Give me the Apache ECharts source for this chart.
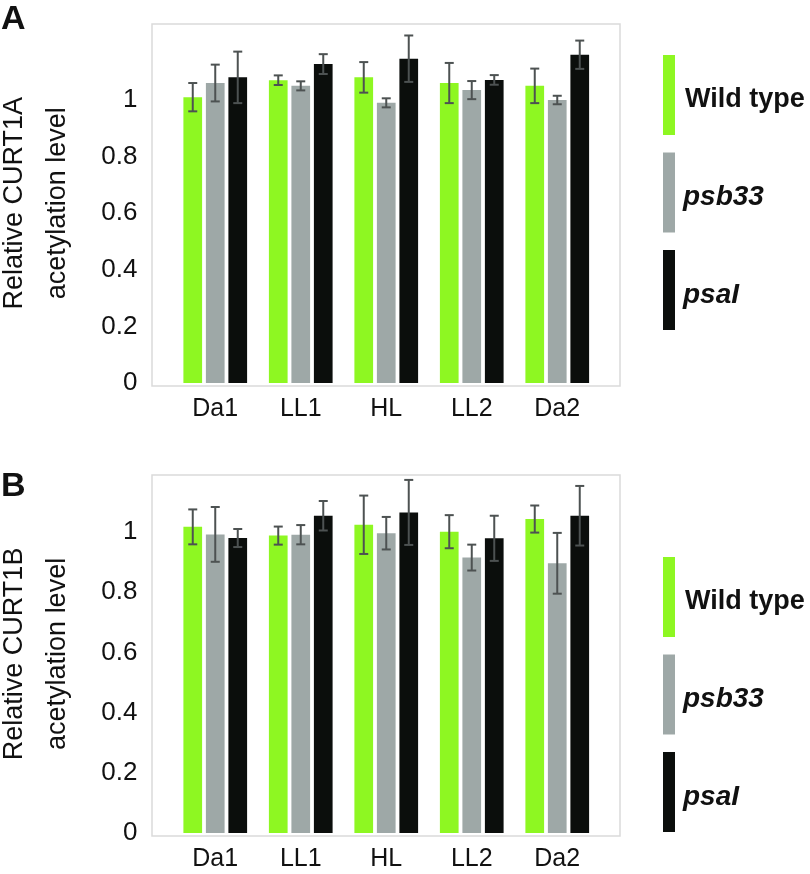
<!DOCTYPE html>
<html>
<head>
<meta charset="utf-8">
<script src="https://cdn.jsdelivr.net/npm/echarts@6/dist/echarts.min.js"></script>
<style>html,body{margin:0;padding:0;background:#fff;}#c{width:810px;height:874px;}</style>
</head>
<body>
<div id="c"></div>
<script>
// ---- data ----
const categories = ['Da1', 'LL1', 'HL', 'LL2', 'Da2'];
const seriesNames = ['Wild type', 'psb33', 'psaI'];
const yTickLabels = ['0', '0.2', '0.4', '0.6', '0.8', '1'];

// Panel A (CURT1A)
const aWT = [1.01, 1.07, 1.08, 1.06, 1.05];
const aWTErr = [0.05, 0.017, 0.054, 0.071, 0.061];
const aPsb = [1.06, 1.05, 0.99, 1.035, 1.0];
const aPsbErr = [0.065, 0.016, 0.016, 0.032, 0.015];
const aPsa = [1.08, 1.127, 1.146, 1.071, 1.16];
const aPsaErr = [0.091, 0.035, 0.082, 0.017, 0.05];

// Panel B (CURT1B)
const bWT = [1.017, 0.988, 1.024, 1.001, 1.043];
const bWTErr = [0.058, 0.03, 0.097, 0.055, 0.045];
const bPsb = [0.992, 0.991, 0.996, 0.915, 0.896];
const bPsbErr = [0.091, 0.032, 0.054, 0.043, 0.101];
const bPsa = [0.98, 1.054, 1.065, 0.979, 1.054];
const bPsaErr = [0.03, 0.049, 0.108, 0.075, 0.099];

// ---- styling ----
const colors = ['#8ef722', '#9ea8a7', '#0b0e0c'];
const errColor = '#4d5252';
const FONT = 'Liberation Sans, Arial, sans-serif';
const BAR_W = 18.7;
const BAR_GAP_PX = 3.8;

const chart = echarts.init(document.getElementById('c'), null, {renderer: 'canvas'});

function errSeries(vals, errs, k, gi) {
  const offset = (k - 1) * (BAR_W + BAR_GAP_PX);
  return {
    type: 'custom',
    name: 'err' + gi + k,
    xAxisIndex: gi, yAxisIndex: gi,
    z: 5,
    silent: true,
    data: vals.map((v, i) => [i, v, errs[i]]),
    renderItem: function (params, api) {
      const i = api.value(0), v = api.value(1), e = api.value(2);
      const x = api.coord([i, v])[0] + offset;
      const yt = api.coord([i, v + e])[1];
      const yb = api.coord([i, v - e])[1];
      const st = {stroke: errColor, lineWidth: 2};
      return {
        type: 'group',
        children: [
          {type: 'line', shape: {x1: x, y1: yt, x2: x, y2: yb}, style: st},
          {type: 'line', shape: {x1: x - 4.5, y1: yt, x2: x + 4.5, y2: yt}, style: st},
          {type: 'line', shape: {x1: x - 4.5, y1: yb, x2: x + 4.5, y2: yb}, style: st}
        ]
      };
    }
  };
}

function barSeries(vals, k, gi) {
  return {
    type: 'bar', name: seriesNames[k],
    xAxisIndex: gi, yAxisIndex: gi,
    data: vals,
    barWidth: BAR_W,
    barGap: (BAR_GAP_PX / BAR_W * 100) + '%',
    itemStyle: {color: colors[k]},
    silent: true
  };
}

function xAxis(gi) {
  return {
    type: 'category', gridIndex: gi, data: categories,
    axisLine: {show: false}, axisTick: {show: false},
    axisLabel: {fontFamily: FONT, fontSize: 25, color: '#111', margin: 14}
  };
}
function yAxis(gi, max, name) {
  return {
    type: 'value', gridIndex: gi, min: 0, max: max, interval: 0.2,
    splitLine: {show: false}, axisLine: {show: false}, axisTick: {show: false},
    axisLabel: {
      fontFamily: FONT, fontSize: 26, color: '#111', margin: 35,
      showMaxLabel: false,
      formatter: function (v) {
        const idx = Math.round(v / 0.2);
        return idx < yTickLabels.length ? yTickLabels[idx] : '';
      }
    },
    name: name, nameLocation: 'middle', nameRotate: 90, nameGap: 93,
    nameTextStyle: {fontFamily: FONT, fontSize: 27, color: '#111', lineHeight: 43, align: 'center'}
  };
}

const legendRich = {
  n: {fontFamily: FONT, fontSize: 27, fontWeight: 'bold', color: '#111', padding: [10, 0, 0, 5]},
  i: {fontFamily: FONT, fontSize: 28, fontWeight: 'bold', fontStyle: 'italic', color: '#111', padding: [10, 0, 0, 3]}
};
function legend(top, gap) {
  return {
    orient: 'vertical', left: 658, top: top,
    itemWidth: 12, itemHeight: 80, itemGap: gap,
    icon: 'rect', selectedMode: false,
    data: seriesNames,
    formatter: function (n) { return n === 'Wild type' ? '{n|' + n + '}' : '{i|' + n + '}'; },
    textStyle: {rich: legendRich}
  };
}

chart.setOption({
  animation: false,
  backgroundColor: '#fff',
  grid: [
    {left: 172.5, width: 427.5, top: 23.6, height: 359.4, outerBoundsMode: 'none', containLabel: false},
    {left: 172.5, width: 427.5, top: 474.8, height: 358.2, outerBoundsMode: 'none', containLabel: false}
  ],
  xAxis: [xAxis(0), xAxis(1)],
  yAxis: [yAxis(0, 1.27, 'Relative CURT1A\nacetylation level'), yAxis(1, 1.19, 'Relative CURT1B\nacetylation level')],
  legend: [legend(50, 17.5), legend(552, 17.5)],
  graphic: [
    {type: 'rect', shape: {x: 152, y: 24, width: 468, height: 362}, style: {fill: 'none', stroke: '#dadada', lineWidth: 1.5}, z: -1},
    {type: 'rect', shape: {x: 152, y: 475, width: 468, height: 361}, style: {fill: 'none', stroke: '#dadada', lineWidth: 1.5}, z: -1},
    {type: 'text', left: 1, top: 3, style: {text: 'A', font: 'bold 34px ' + FONT, fill: '#111'}},
    {type: 'text', left: 1, top: 470, style: {text: 'B', font: 'bold 34px ' + FONT, fill: '#111'}}
  ],
  series: [
    barSeries(aWT, 0, 0), barSeries(aPsb, 1, 0), barSeries(aPsa, 2, 0),
    barSeries(bWT, 0, 1), barSeries(bPsb, 1, 1), barSeries(bPsa, 2, 1),
    errSeries(aWT, aWTErr, 0, 0), errSeries(aPsb, aPsbErr, 1, 0), errSeries(aPsa, aPsaErr, 2, 0),
    errSeries(bWT, bWTErr, 0, 1), errSeries(bPsb, bPsbErr, 1, 1), errSeries(bPsa, bPsaErr, 2, 1)
  ]
});
</script>
</body>
</html>
